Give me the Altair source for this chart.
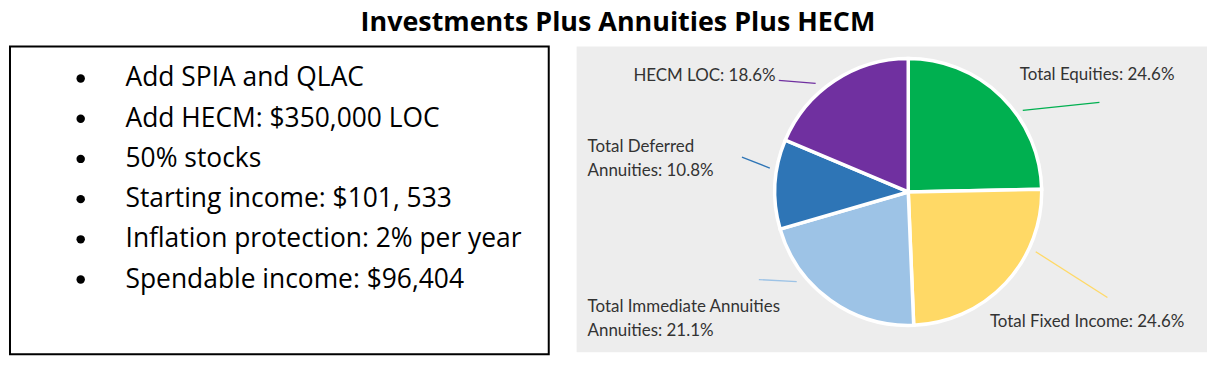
import altair as alt
import pandas as pd

# ---------------- data ----------------
TITLE = "Investments Plus Annuities Plus HECM"

bullets = [
    "Add SPIA and QLAC",
    "Add HECM: $350,000 LOC",
    "50% stocks",
    "Starting income: $101, 533",
    "Inflation protection: 2% per year",
    "Spendable income: $96,404",
]

categories = [
    "Total Equities",
    "Total Fixed Income",
    "Total Immediate Annuities",
    "Total Deferred Annuities",
    "HECM LOC",
]
shares = [24.6, 24.6, 21.1, 10.8, 18.6]
label_texts = [
    "Total Equities: 24.6%",
    "Total Fixed Income: 24.6%",
    "Total Immediate Annuities\nAnnuities: 21.1%",
    "Total Deferred\nAnnuities: 10.8%",
    "HECM LOC: 18.6%",
]

# ---------------- styles / layout ----------------
colors = ["#00B050", "#FFD966", "#9DC3E6", "#2E75B6", "#7030A0"]
PANEL_BG = "#EDEDED"
LABEL_COLOR = "#333333"

# annotation layout (pixels inside the pie panel; label y = first baseline)
label_left = [445, 415, 11, 11, 57]
label_base = [34, 282, 267, 106, 35]
lead_x1 = [448, 461, 221, 194, 240]
lead_y1 = [64, 206, 236, 122, 37]
lead_x2 = [525, 533, 183, 166, 203]
lead_y2 = [56, 252, 234, 111, 34]

PIE_CX, PIE_CY, PIE_R = 333, 146, 134

# ---------------- left panel ----------------
bdf = pd.DataFrame({"i": list(range(len(bullets))), "text": bullets})
ypos = alt.Y("i:O", axis=None,
             scale=alt.Scale(type="point", range=[32, 234], padding=0))
bbase = alt.Chart(bdf)
dots = bbase.mark_circle(size=72, color="black", opacity=1).encode(
    x=alt.value(71), y=ypos)
btext = bbase.mark_text(align="left", baseline="middle", font="Open Sans",
                        fontSize=26.5, color="black").encode(
    x=alt.value(116), y=ypos, text="text:N")
left = alt.layer(dots, btext).properties(
    width=541, height=309,
    view=alt.ViewBackground(fill="white", stroke="black", strokeWidth=2))

# ---------------- right panel ----------------
pdf = pd.DataFrame({
    "idx": list(range(len(categories))),
    "category": categories,
    "share": shares,
    "label": label_texts,
    "lx": label_left,
    "ly": label_base,
    "x1": lead_x1, "y1": lead_y1, "x2": lead_x2, "y2": lead_y2,
})
cscale = alt.Scale(domain=categories, range=colors)
pbase = alt.Chart(pdf)

arcs = pbase.mark_arc(radius=PIE_R, stroke="white", strokeWidth=3.5).encode(
    theta=alt.Theta("share:Q", stack=True),
    color=alt.Color("category:N", scale=cscale, legend=None),
    order=alt.Order("idx:Q"),
    x=alt.value(PIE_CX),
    y=alt.value(PIE_CY),
)
leads = pbase.mark_rule(strokeWidth=1.3).encode(
    x=alt.X("x1:Q", scale=None, axis=None),
    y=alt.Y("y1:Q", scale=None, axis=None),
    x2="x2:Q", y2="y2:Q",
    color=alt.Color("category:N", scale=cscale, legend=None),
)
labels = pbase.mark_text(align="left", baseline="alphabetic", font="Lato",
                         fontSize=17, lineHeight=24, lineBreak="\n",
                         color=LABEL_COLOR).encode(
    x=alt.X("lx:Q", scale=None, axis=None),
    y=alt.Y("ly:Q", scale=None, axis=None),
    text="label:N",
)
right = alt.layer(arcs, leads, labels).properties(
    width=633, height=307,
    view=alt.ViewBackground(fill=PANEL_BG, stroke=PANEL_BG, strokeWidth=0))

chart = alt.hconcat(left, right, spacing=27).properties(
    title=alt.TitleParams(TITLE, fontSize=27, font="Open Sans", fontWeight="bold",
                          anchor="middle", offset=9, dx=10, color="black"),
    padding={"left": 1, "top": 0, "right": 0, "bottom": 0},
    background="white",
)

chart.save("out.html", embed_options={"renderer": "svg", "actions": False})
